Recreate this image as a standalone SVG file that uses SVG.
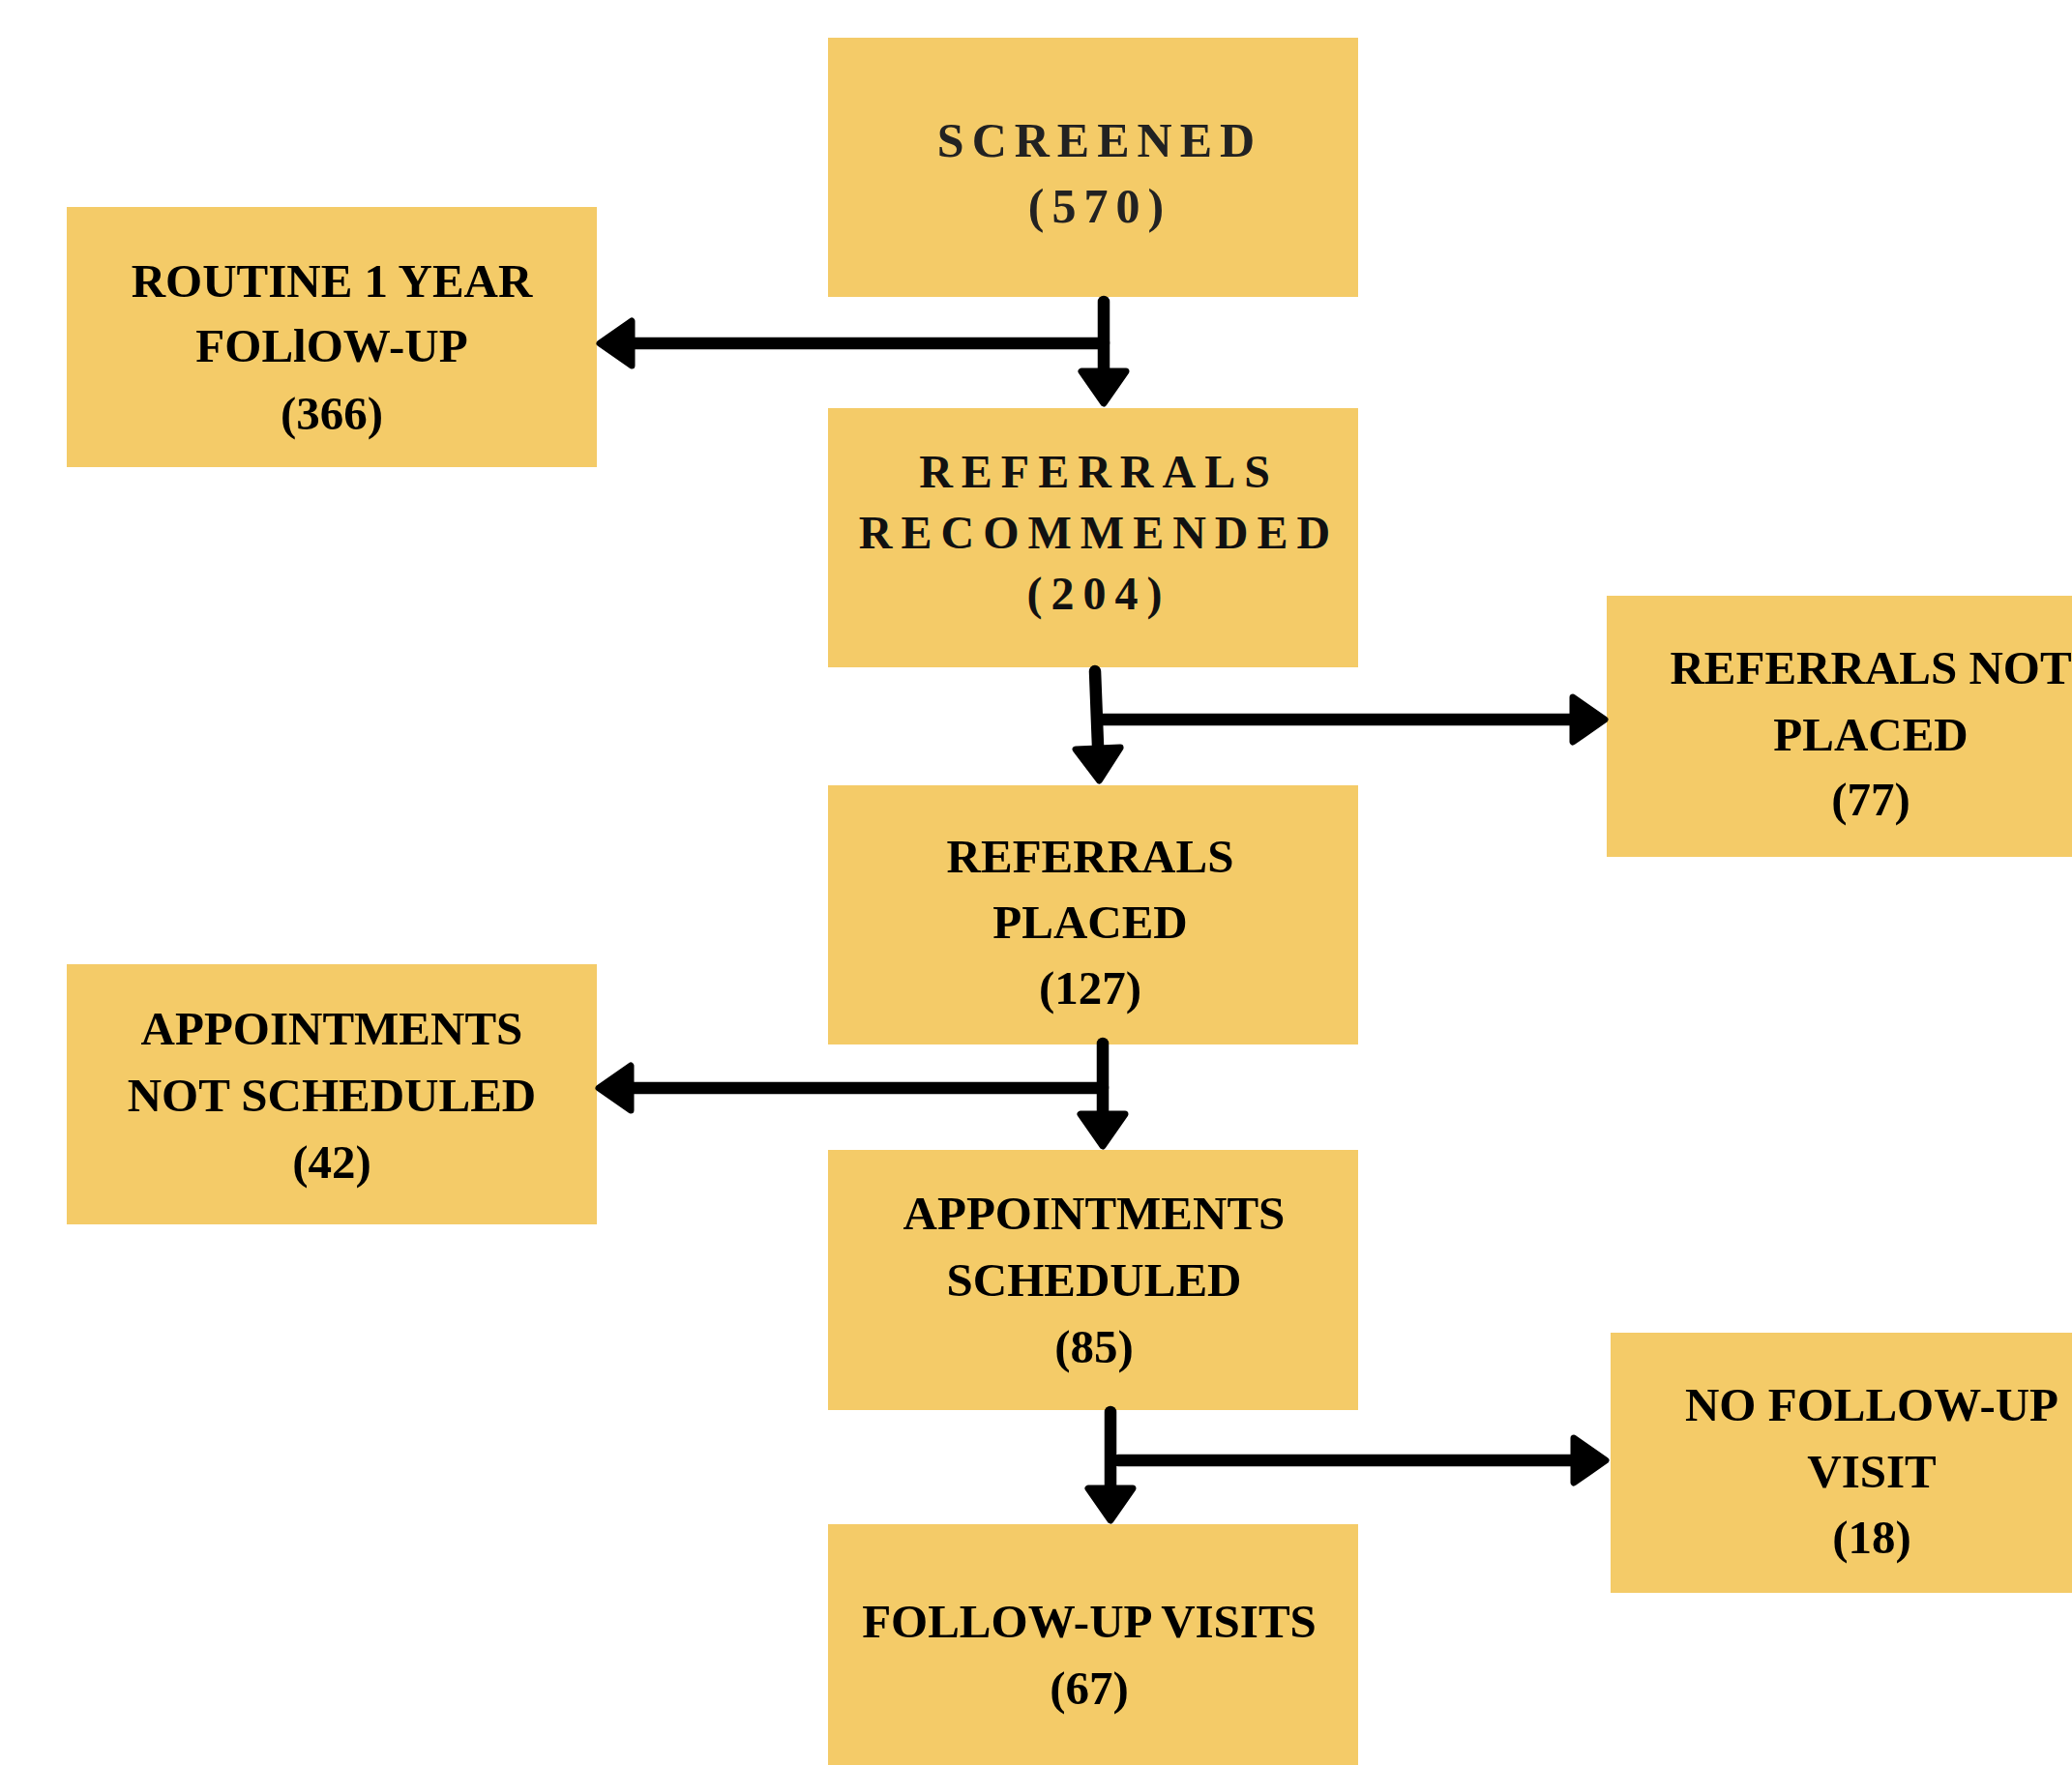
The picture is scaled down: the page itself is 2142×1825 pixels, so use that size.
<svg xmlns="http://www.w3.org/2000/svg" width="2142" height="1825" viewBox="0 0 2142 1825">
  <style>
    .box { fill: #F4CB68; }
    .lbl { font-family: "Liberation Serif", "Times New Roman", serif; font-weight: bold; font-size: 49px; text-anchor: middle; fill: #000; }
    .sp1 { font-family: "Liberation Serif", "Times New Roman", serif; font-weight: bold; font-size: 50px; letter-spacing: 8px; text-anchor: middle; fill: #222; }
    .sp2 { font-family: "Liberation Serif", "Times New Roman", serif; font-weight: bold; font-size: 48px; letter-spacing: 9px; text-anchor: middle; fill: #111; }
    .conn { fill: none; stroke: #000; stroke-width: 12.5; stroke-linecap: round; stroke-linejoin: round; }
  </style>
  <defs>
    <marker id="head" markerUnits="userSpaceOnUse" markerWidth="50" markerHeight="64" viewBox="-4 -32 48 64" refX="0" refY="0" orient="auto">
      <path d="M3,-23 L36,0 L3,23 Z" fill="#000" stroke="#000" stroke-width="7" stroke-linejoin="round"/>
    </marker>
  </defs>
  <rect width="2142" height="1825" fill="#fff"/>

  <g id="screened">
    <rect class="box" x="856" y="39" width="548" height="268"/>
    <text class="sp1" x="1137" y="162">SCREENED</text>
    <text class="sp1" x="1137" y="230">(570)</text>
  </g>
  <g id="routine">
    <rect class="box" x="69" y="214" width="548" height="269"/>
    <text class="lbl" x="343" y="307">ROUTINE 1 YEAR</text>
    <text class="lbl" x="343" y="374">FOLlOW-UP</text>
    <text class="lbl" x="343" y="444">(366)</text>
  </g>
  <g id="referrals-recommended">
    <rect class="box" x="856" y="422" width="548" height="268"/>
    <text class="sp2" x="1136" y="504">REFERRALS</text>
    <text class="sp2" x="1136" y="567">RECOMMENDED</text>
    <text class="sp2" x="1136" y="630">(204)</text>
  </g>
  <g id="referrals-not-placed">
    <rect class="box" x="1661" y="616" width="548" height="270"/>
    <text class="lbl" x="1934" y="707">REFERRALS NOT</text>
    <text class="lbl" x="1934" y="776">PLACED</text>
    <text class="lbl" x="1934" y="843">(77)</text>
  </g>
  <g id="referrals-placed">
    <rect class="box" x="856" y="812" width="548" height="268"/>
    <text class="lbl" x="1127" y="902">REFERRALS</text>
    <text class="lbl" x="1127" y="970">PLACED</text>
    <text class="lbl" x="1127" y="1038">(127)</text>
  </g>
  <g id="appointments-not-scheduled">
    <rect class="box" x="69" y="997" width="548" height="269"/>
    <text class="lbl" x="343" y="1080">APPOINTMENTS</text>
    <text class="lbl" x="343" y="1149">NOT SCHEDULED</text>
    <text class="lbl" x="343" y="1218">(42)</text>
  </g>
  <g id="appointments-scheduled">
    <rect class="box" x="856" y="1189" width="548" height="269"/>
    <text class="lbl" x="1131" y="1271">APPOINTMENTS</text>
    <text class="lbl" x="1131" y="1340">SCHEDULED</text>
    <text class="lbl" x="1131" y="1409">(85)</text>
  </g>
  <g id="no-follow-up-visit">
    <rect class="box" x="1665" y="1378" width="548" height="269"/>
    <text class="lbl" x="1935" y="1469">NO FOLLOW-UP</text>
    <text class="lbl" x="1935" y="1538">VISIT</text>
    <text class="lbl" x="1935" y="1606">(18)</text>
  </g>
  <g id="follow-up-visits">
    <rect class="box" x="856" y="1576" width="548" height="268"/>
    <text class="lbl" x="1126" y="1693">FOLLOW-UP VISITS</text>
    <text class="lbl" x="1126" y="1762">(67)</text>
  </g>

  <g id="connectors">
    <path class="conn" d="M1141,312 V381" marker-end="url(#head)"/>
    <path class="conn" d="M1141,355 H656" marker-end="url(#head)"/>
    <path class="conn" d="M1132,694 L1135,771" marker-end="url(#head)"/>
    <path class="conn" d="M1139,744 H1623" marker-end="url(#head)"/>
    <path class="conn" d="M1140,1079 V1149" marker-end="url(#head)"/>
    <path class="conn" d="M1140,1125 H655" marker-end="url(#head)"/>
    <path class="conn" d="M1148,1460 V1536" marker-end="url(#head)"/>
    <path class="conn" d="M1156,1510 H1624" marker-end="url(#head)"/>
  </g>
</svg>
